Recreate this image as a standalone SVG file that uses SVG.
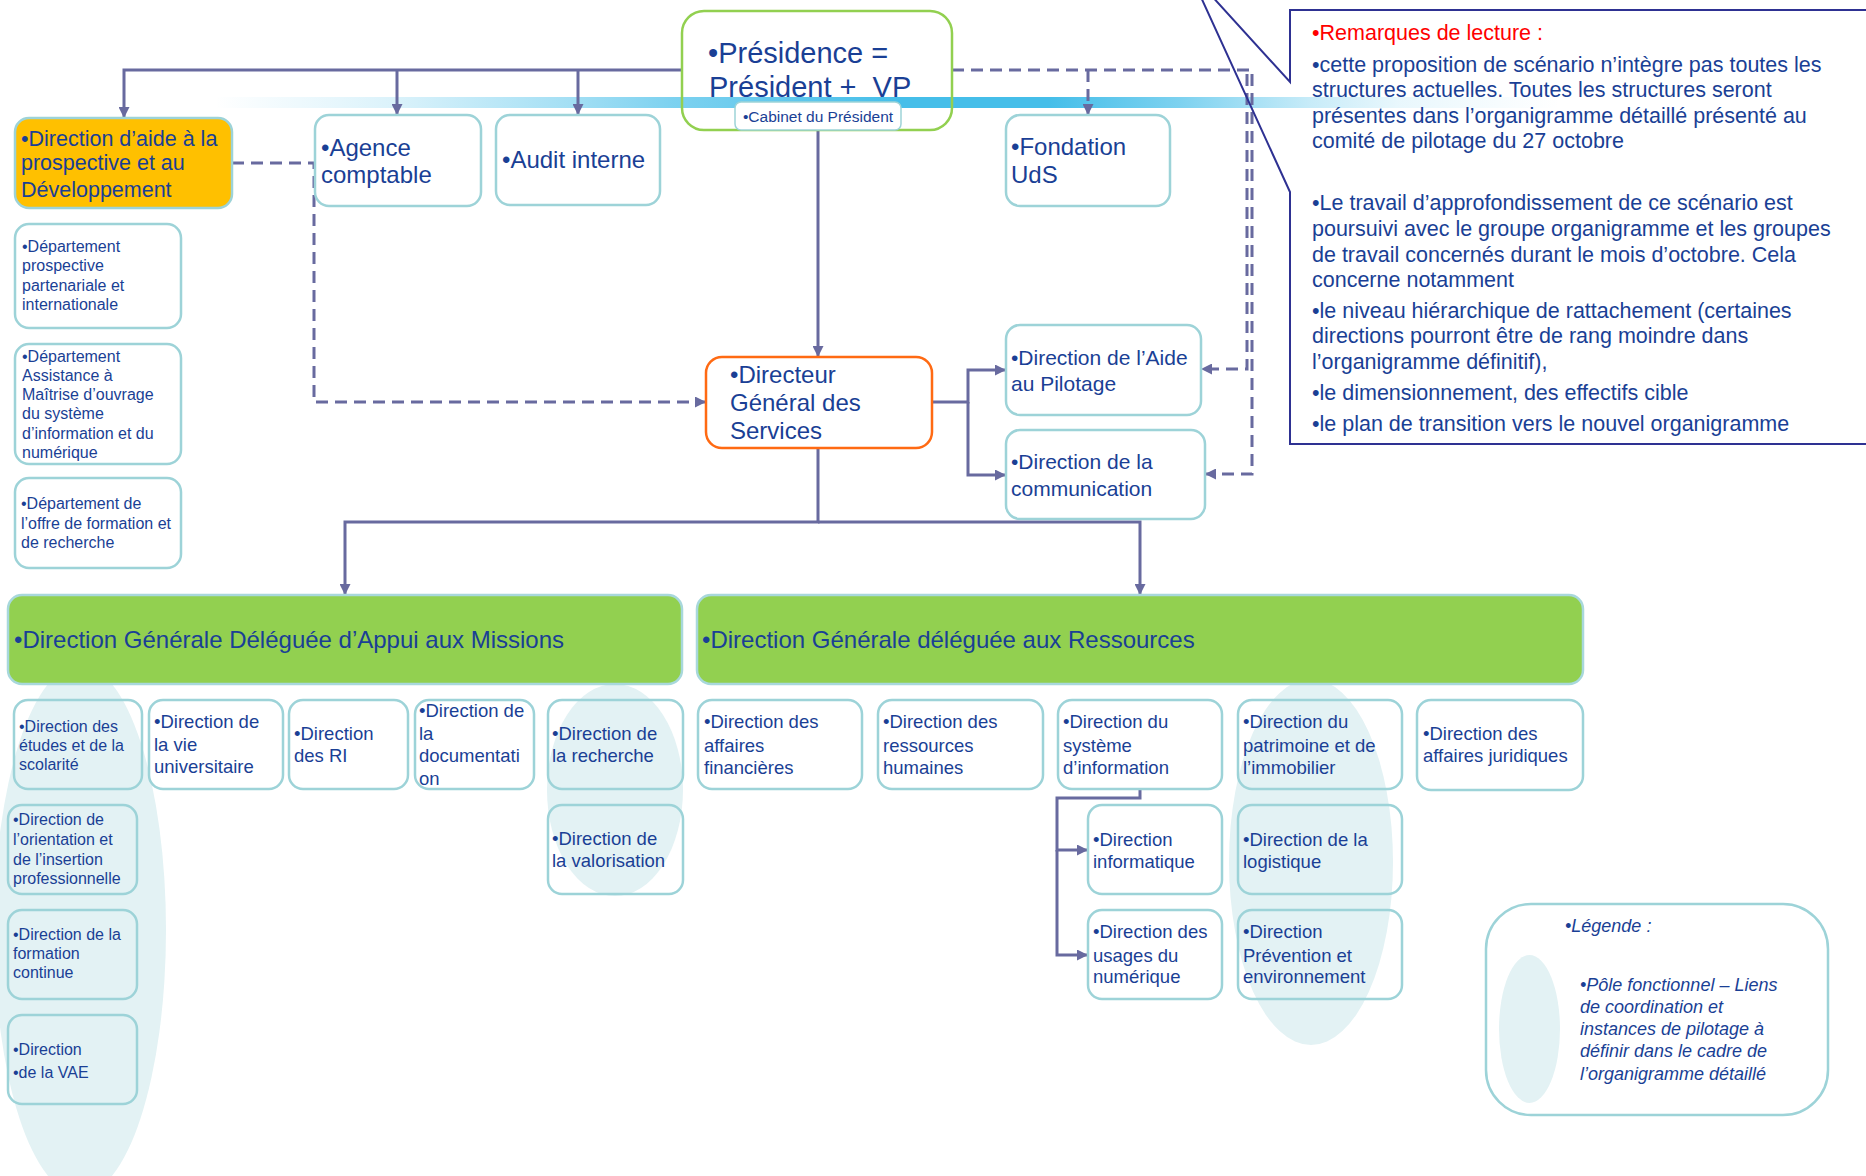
<svg xmlns="http://www.w3.org/2000/svg" width="1866" height="1176" viewBox="0 0 1866 1176">
<defs>
<style>
.box{fill:none;stroke:#9DD3D8;stroke-width:2.5}
.wbox{fill:#fff;stroke:#9DD3D8;stroke-width:2.5}
.band{fill:#92D050;stroke:#A8D8DC;stroke-width:2.5}
.ell{fill:#E3F2F4}
.t{font-family:"Liberation Sans",Arial,sans-serif;fill:#1A3F95}
.s16{font-size:16px}
.s185{font-size:18.5px}
.s21{font-size:21px}
.s215{font-size:21.5px}
.s24{font-size:24px}
.ln{fill:none;stroke:#686A9F;stroke-width:3}
.dash{fill:none;stroke:#686A9F;stroke-width:3;stroke-dasharray:12 7}
</style>
<marker id="ah" viewBox="0 0 10 10" refX="10" refY="5" markerWidth="12" markerHeight="11" markerUnits="userSpaceOnUse" orient="auto"><path d="M0,0 L10,5 L0,10 z" fill="#686A9F"/></marker>
<linearGradient id="bar" gradientUnits="userSpaceOnUse" x1="215" y1="0" x2="1560" y2="0">
<stop offset="0" stop-color="#45BEE9" stop-opacity="0"/>
<stop offset="0.136" stop-color="#45BEE9" stop-opacity="0.2"/>
<stop offset="0.268" stop-color="#45BEE9" stop-opacity="0.5"/>
<stop offset="0.34" stop-color="#45BEE9" stop-opacity="0.7"/>
<stop offset="0.51" stop-color="#45BEE9" stop-opacity="1"/>
<stop offset="0.62" stop-color="#45BEE9" stop-opacity="1"/>
<stop offset="0.717" stop-color="#45BEE9" stop-opacity="0.7"/>
<stop offset="0.814" stop-color="#45BEE9" stop-opacity="0.3"/>
<stop offset="0.88" stop-color="#45BEE9" stop-opacity="0.12"/>
<stop offset="1" stop-color="#45BEE9" stop-opacity="0"/>
</linearGradient>
</defs>
<rect width="1866" height="1176" fill="#fff"/>

<g id="poles">
<ellipse class="ell" cx="80" cy="930" rx="86" ry="265"/>
<ellipse class="ell" cx="615" cy="790" rx="68" ry="106"/>
<ellipse class="ell" cx="1311" cy="862" rx="82" ry="183"/>
</g>

<g id="callout">
<polygon points="1290,10 1290,82 1189,-29 1290,192 1290,444 1880,444 1880,10" fill="#fff"/>
</g>

<rect id="bar-deco" x="215" y="97" width="1345" height="11" fill="url(#bar)"/>

<g id="connectors">
<path class="ln" d="M682,70 H124 V118" marker-end="url(#ah)"/>
<path class="ln" d="M397,70 V115" marker-end="url(#ah)"/>
<path class="ln" d="M578,70 V115" marker-end="url(#ah)"/>
<path class="ln" d="M818,130 V357" marker-end="url(#ah)"/>
<path class="ln" d="M932,402 H968 V370 H1006" marker-end="url(#ah)"/>
<path class="ln" d="M968,402 V475 H1006" marker-end="url(#ah)"/>
<path class="ln" d="M818,448 V522 H345 V595" marker-end="url(#ah)"/>
<path class="ln" d="M818,522 H1140 V595" marker-end="url(#ah)"/>
<path class="ln" d="M1140,789 V798 H1057 V850 H1088" marker-end="url(#ah)"/>
<path class="ln" d="M1057,850 V955 H1088" marker-end="url(#ah)"/>
<path class="dash" d="M232,163 H314 V402 H706" marker-end="url(#ah)"/>
<path class="dash" d="M952,70 H1252 V474 H1205" marker-end="url(#ah)"/>
<path class="dash" d="M1247,74 V369 H1201" marker-end="url(#ah)"/>
<path class="dash" d="M1088,70 V115" marker-end="url(#ah)"/>
</g>

<g id="callout-text">
<polygon points="1290,10 1290,82 1189,-29 1290,192 1290,444 1880,444 1880,10" fill="none" stroke="#2E3192" stroke-width="2"/>
<text class="t s215" x="1312" y="40" fill="#FF0000" style="fill:#FF0000">•Remarques de lecture :</text>
<text class="t s215" x="1312" y="72">•cette proposition de scénario n’intègre pas toutes les</text>
<text class="t s215" x="1312" y="97">structures actuelles. Toutes les structures seront</text>
<text class="t s215" x="1312" y="123">présentes dans l’organigramme détaillé présenté au</text>
<text class="t s215" x="1312" y="148">comité de pilotage du 27 octobre</text>
<text class="t s215" x="1312" y="210">•Le travail d’approfondissement de ce scénario est</text>
<text class="t s215" x="1312" y="236">poursuivi avec le groupe organigramme et les groupes</text>
<text class="t s215" x="1312" y="262">de travail concernés durant le mois d’octobre. Cela</text>
<text class="t s215" x="1312" y="287">concerne notamment</text>
<text class="t s215" x="1312" y="318">•le niveau hiérarchique de rattachement (certaines</text>
<text class="t s215" x="1312" y="343">directions pourront être de rang moindre dans</text>
<text class="t s215" x="1312" y="369">l’organigramme définitif),</text>
<text class="t s215" x="1312" y="400">•le dimensionnement, des effectifs cible</text>
<text class="t s215" x="1312" y="431">•le plan de transition vers le nouvel organigramme</text>
</g>

<g id="n-presidence">
<rect x="682" y="11" width="270" height="119" rx="22" fill="none" stroke="#92D050" stroke-width="2.5"/>
<text class="t" x="708" y="63" font-size="29">•Présidence =</text>
<text class="t" x="709" y="97" font-size="29">Président + &#160;VP</text>
</g>
<g id="n-cabinet">
<rect x="735" y="102" width="166" height="28" rx="6" fill="#fff" stroke="#9DD3D8" stroke-width="1.5"/>
<text class="t" x="818" y="122" font-size="15.5" text-anchor="middle">•Cabinet du Président</text>
</g>

<g id="n-aide-prospective">
<rect x="15" y="118" width="217" height="90" rx="14" fill="#FFC000" stroke="#9DD3D8" stroke-width="2.5"/>
<text class="t s215" x="21" y="146">•Direction d’aide à la</text>
<text class="t s215" x="21" y="170">prospective et au</text>
<text class="t s215" x="21" y="197">Développement</text>
</g>
<g id="n-agence">
<rect class="wbox" x="315" y="115" width="166" height="91" rx="14"/>
<text class="t s24" x="321" y="156">•Agence</text>
<text class="t s24" x="321" y="183">comptable</text>
</g>
<g id="n-audit">
<rect class="wbox" x="496" y="115" width="164" height="90" rx="14"/>
<text class="t s24" x="502" y="168">•Audit interne</text>
</g>
<g id="n-fondation">
<rect class="wbox" x="1006" y="115" width="164" height="91" rx="14"/>
<text class="t s24" x="1011" y="155">•Fondation</text>
<text class="t s24" x="1011" y="183">UdS</text>
</g>

<g id="n-dep-prospective">
<rect class="box" x="15" y="224" width="166" height="104" rx="14"/>
<text class="t s16" x="22" y="252">•Département</text>
<text class="t s16" x="22" y="271">prospective</text>
<text class="t s16" x="22" y="291">partenariale et</text>
<text class="t s16" x="22" y="310">internationale</text>
</g>
<g id="n-dep-amoa">
<rect class="box" x="15" y="344" width="166" height="120" rx="14"/>
<text class="t s16" x="22" y="362">•Département</text>
<text class="t s16" x="22" y="381">Assistance à</text>
<text class="t s16" x="22" y="400">Maîtrise d’ouvrage</text>
<text class="t s16" x="22" y="419">du système</text>
<text class="t s16" x="22" y="439">d’information et du</text>
<text class="t s16" x="22" y="458">numérique</text>
</g>
<g id="n-dep-offre">
<rect class="box" x="15" y="478" width="166" height="90" rx="14"/>
<text class="t s16" x="21" y="509">•Département de</text>
<text class="t s16" x="21" y="529">l’offre de formation et</text>
<text class="t s16" x="21" y="548">de recherche</text>
</g>

<g id="n-dgs">
<rect x="706" y="357" width="226" height="91" rx="16" fill="#fff" stroke="#FF6A13" stroke-width="2.5"/>
<text class="t s24" x="730" y="383">•Directeur</text>
<text class="t s24" x="730" y="411">Général des</text>
<text class="t s24" x="730" y="439">Services</text>
</g>
<g id="n-pilotage">
<rect class="wbox" x="1006" y="325" width="195" height="90" rx="14"/>
<text class="t s21" x="1011" y="365">•Direction de l’Aide</text>
<text class="t s21" x="1011" y="391">au Pilotage</text>
</g>
<g id="n-communication">
<rect class="wbox" x="1006" y="430" width="199" height="89" rx="14"/>
<text class="t s21" x="1011" y="469">•Direction de la</text>
<text class="t s21" x="1011" y="496">communication</text>
</g>

<g id="n-dgam">
<rect class="band" x="8" y="595" width="674" height="89" rx="14"/>
<text class="t s24" x="14" y="648">•Direction Générale Déléguée d’Appui aux Missions</text>
</g>
<g id="n-dgr">
<rect class="band" x="697" y="595" width="886" height="89" rx="14"/>
<text class="t s24" x="702" y="648">•Direction Générale déléguée aux Ressources</text>
</g>

<g id="n-etudes">
<rect class="box" x="14" y="700" width="128" height="89" rx="14"/>
<text class="t s16" x="19" y="732">•Direction des</text>
<text class="t s16" x="19" y="751">études et de la</text>
<text class="t s16" x="19" y="770">scolarité</text>
</g>
<g id="n-vie">
<rect class="box" x="149" y="700" width="134" height="89" rx="14"/>
<text class="t s185" x="154" y="728">•Direction de</text>
<text class="t s185" x="154" y="751">la vie</text>
<text class="t s185" x="154" y="773">universitaire</text>
</g>
<g id="n-ri">
<rect class="box" x="289" y="700" width="119" height="89" rx="14"/>
<text class="t s185" x="294" y="740">•Direction</text>
<text class="t s185" x="294" y="762">des RI</text>
</g>
<g id="n-doc">
<rect class="box" x="415" y="700" width="119" height="89" rx="14"/>
<text class="t s185" x="419" y="717">•Direction de</text>
<text class="t s185" x="419" y="740">la</text>
<text class="t s185" x="419" y="762">documentati</text>
<text class="t s185" x="419" y="785">on</text>
</g>
<g id="n-recherche">
<rect class="box" x="548" y="700" width="135" height="89" rx="14"/>
<text class="t s185" x="552" y="740">•Direction de</text>
<text class="t s185" x="552" y="762">la recherche</text>
</g>
<g id="n-valorisation">
<rect class="box" x="548" y="805" width="135" height="89" rx="14"/>
<text class="t s185" x="552" y="845">•Direction de</text>
<text class="t s185" x="552" y="867">la valorisation</text>
</g>
<g id="n-orientation">
<rect class="box" x="8" y="805" width="129" height="89" rx="14"/>
<text class="t s16" x="13" y="825">•Direction de</text>
<text class="t s16" x="13" y="845">l’orientation et</text>
<text class="t s16" x="13" y="865">de l’insertion</text>
<text class="t s16" x="13" y="884">professionnelle</text>
</g>
<g id="n-fc">
<rect class="box" x="8" y="910" width="129" height="89" rx="14"/>
<text class="t s16" x="13" y="940">•Direction de la</text>
<text class="t s16" x="13" y="959">formation</text>
<text class="t s16" x="13" y="978">continue</text>
</g>
<g id="n-vae">
<rect class="box" x="8" y="1015" width="129" height="89" rx="14"/>
<text class="t s16" x="13" y="1055">•Direction</text>
<text class="t s16" x="13" y="1078">•de la VAE</text>
</g>

<g id="n-finances">
<rect class="box" x="698" y="700" width="164" height="89" rx="14"/>
<text class="t s185" x="704" y="728">•Direction des</text>
<text class="t s185" x="704" y="752">affaires</text>
<text class="t s185" x="704" y="774">financières</text>
</g>
<g id="n-rh">
<rect class="box" x="878" y="700" width="165" height="89" rx="14"/>
<text class="t s185" x="883" y="728">•Direction des</text>
<text class="t s185" x="883" y="752">ressources</text>
<text class="t s185" x="883" y="774">humaines</text>
</g>
<g id="n-si">
<rect class="box" x="1058" y="700" width="164" height="89" rx="14"/>
<text class="t s185" x="1063" y="728">•Direction du</text>
<text class="t s185" x="1063" y="752">système</text>
<text class="t s185" x="1063" y="774">d’information</text>
</g>
<g id="n-patrimoine">
<rect class="box" x="1238" y="700" width="164" height="89" rx="14"/>
<text class="t s185" x="1243" y="728">•Direction du</text>
<text class="t s185" x="1243" y="752">patrimoine et de</text>
<text class="t s185" x="1243" y="774">l’immobilier</text>
</g>
<g id="n-juridiques">
<rect class="box" x="1417" y="700" width="166" height="90" rx="14"/>
<text class="t s185" x="1423" y="740">•Direction des</text>
<text class="t s185" x="1423" y="762">affaires juridiques</text>
</g>
<g id="n-informatique">
<rect class="box" x="1088" y="805" width="134" height="89" rx="14"/>
<text class="t s185" x="1093" y="846">•Direction</text>
<text class="t s185" x="1093" y="868">informatique</text>
</g>
<g id="n-logistique">
<rect class="box" x="1238" y="805" width="164" height="89" rx="14"/>
<text class="t s185" x="1243" y="846">•Direction de la</text>
<text class="t s185" x="1243" y="868">logistique</text>
</g>
<g id="n-usages">
<rect class="box" x="1088" y="910" width="134" height="89" rx="14"/>
<text class="t s185" x="1093" y="938">•Direction des</text>
<text class="t s185" x="1093" y="962">usages du</text>
<text class="t s185" x="1093" y="983">numérique</text>
</g>
<g id="n-prevention">
<rect class="box" x="1238" y="910" width="164" height="89" rx="14"/>
<text class="t s185" x="1243" y="938">•Direction</text>
<text class="t s185" x="1243" y="962">Prévention et</text>
<text class="t s185" x="1243" y="983">environnement</text>
</g>

<g id="legend">
<rect class="wbox" x="1486" y="904" width="342" height="211" rx="45"/>
<ellipse class="ell" cx="1529.5" cy="1029" rx="30.5" ry="74"/>
<text class="t" x="1565" y="932" font-size="18" font-style="italic">•Légende :</text>
<text class="t" x="1580" y="991" font-size="18" font-style="italic">•Pôle fonctionnel – Liens</text>
<text class="t" x="1580" y="1013" font-size="18" font-style="italic">de coordination et</text>
<text class="t" x="1580" y="1035" font-size="18" font-style="italic">instances de pilotage à</text>
<text class="t" x="1580" y="1057" font-size="18" font-style="italic">définir dans le cadre de</text>
<text class="t" x="1580" y="1080" font-size="18" font-style="italic">l’organigramme détaillé</text>
</g>
</svg>
